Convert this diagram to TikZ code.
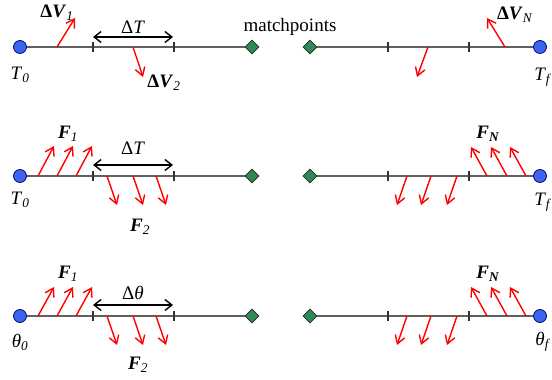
\documentclass[tikz,border=0pt]{standalone}
\usepackage{fontspec}
\setmainfont{Liberation Serif}
\usetikzlibrary{arrows.meta,shapes.geometric}

\definecolor{epblue}{HTML}{3C64F0}
\definecolor{mpgreen}{HTML}{2E8B57}
\definecolor{seggray}{HTML}{606060}

\begin{document}
\begin{tikzpicture}[x=1pt,y=1pt,
  ep/.style={circle,draw=blue!40!black,fill=epblue,inner sep=0pt,minimum size=13pt,line width=0.7pt},
  mp/.style={diamond,draw=black!85,fill=mpgreen,inner sep=0pt,minimum size=14pt,line width=0.7pt},
  seg/.style={draw=seggray,line width=1.4pt},
  tickmark/.style={draw=black!80,line width=1.1pt},
  force/.style={-{Straight Barb[length=8pt,width=10pt]},red,line width=1.4pt},
  span/.style={{Straight Barb[length=7pt,width=11pt]}-{Straight Barb[length=7pt,width=11pt]},black,line width=1.4pt},
  lbl/.style={font=\fontsize{19}{21}\selectfont,inner sep=0pt}]
  \useasboundingbox (0,0) rectangle (552,380);

  % row 1: impulsive burns
  \node[ep] (s1) at (20,333) {};
  \node[mp] (m1) at (252,333) {};
  \node[mp] (n1) at (310,333) {};
  \node[ep] (f1) at (540,333) {};
  \draw[seg] (s1) -- (m1);
  \draw[seg] (n1) -- (f1);
  \draw[tickmark] (93,328) -- (93,338);
  \draw[tickmark] (174,328) -- (174,338);
  \draw[tickmark] (388,328) -- (388,338);
  \draw[tickmark] (469,328) -- (469,338);
  \coordinate (d1a) at (93,343);
  \coordinate (d1b) at (173,343);
  \draw[span] (d1a) -- (d1b);
  \draw[force] (57,333) -- ++(18,29);
  \draw[force] (133,333) -- ++(10,-30);
  \draw[force] (428,333) -- ++(-11,-30);
  \draw[force] (505,333) -- ++(-18,29);
  \node[lbl] (dv1) at (57,367) {\textbf{Δ\textit{V}}\textsubscript{\textit{1}}};
  \node[lbl] (dt1) at (133,353) {Δ\textit{T}};
  \node[lbl] (dv2) at (164,297) {\textbf{Δ\textit{V}}\textsubscript{\textit{2}}};
  \node[lbl] (t01) at (20,305) {\textit{T}\textsubscript{\textit{0}}};
  \node[lbl] (mpl) at (290,353) {matchpoints};
  \node[lbl] (dvn) at (515,365) {\textbf{Δ\textit{V}}\textsubscript{\textit{N}}};
  \node[lbl] (tf1) at (543,303) {\textit{T}\textsubscript{\textit{f}}};

  % row 2: low thrust in time
  \node[ep] (s2) at (20,204) {};
  \node[mp] (m2) at (252,204) {};
  \node[mp] (n2) at (310,204) {};
  \node[ep] (f2) at (540,204) {};
  \draw[seg] (s2) -- (m2);
  \draw[seg] (n2) -- (f2);
  \draw[tickmark] (93,199) -- (93,209);
  \draw[tickmark] (174,199) -- (174,209);
  \draw[tickmark] (388,199) -- (388,209);
  \draw[tickmark] (469,199) -- (469,209);
  \coordinate (d2a) at (93,215);
  \coordinate (d2b) at (173,215);
  \draw[span] (d2a) -- (d2b);
  \draw[force] (38,204) -- ++(16,30);
  \draw[force] (57,204) -- ++(16,30);
  \draw[force] (76,204) -- ++(16,30);
  \draw[force] (107,204) -- ++(10,-29);
  \draw[force] (133,204) -- ++(10,-29);
  \draw[force] (156,204) -- ++(10,-29);
  \draw[force] (407,204) -- ++(-10,-29);
  \draw[force] (431,204) -- ++(-10,-29);
  \draw[force] (457,204) -- ++(-10,-29);
  \draw[force] (487,204) -- ++(-16,29);
  \draw[force] (507,204) -- ++(-16,29);
  \draw[force] (526,204) -- ++(-16,29);
  \node[lbl] (fa2) at (68,246) {\textbf{\textit{F}}\textsubscript{\textit{1}}};
  \node[lbl] (dt2) at (133,232) {Δ\textit{T}};
  \node[lbl] (fb2) at (140,153) {\textbf{\textit{F}}\textsubscript{\textit{2}}};
  \node[lbl] (t02) at (20,180) {\textit{T}\textsubscript{\textit{0}}};
  \node[lbl] (fn2) at (488,246) {\textbf{\textit{F}}\textsubscript{\textbf{\textit{N}}}};
  \node[lbl] (tf2) at (543,178) {\textit{T}\textsubscript{\textit{f}}};

  % row 3: low thrust in angle
  \node[ep] (s3) at (20,64) {};
  \node[mp] (m3) at (252,64) {};
  \node[mp] (n3) at (310,64) {};
  \node[ep] (f3) at (540,64) {};
  \draw[seg] (s3) -- (m3);
  \draw[seg] (n3) -- (f3);
  \draw[tickmark] (93,59) -- (93,69);
  \draw[tickmark] (174,59) -- (174,69);
  \draw[tickmark] (388,59) -- (388,69);
  \draw[tickmark] (469,59) -- (469,69);
  \coordinate (d3a) at (93,75);
  \coordinate (d3b) at (173,75);
  \draw[span] (d3a) -- (d3b);
  \draw[force] (38,64) -- ++(16,29);
  \draw[force] (57,64) -- ++(16,29);
  \draw[force] (76,64) -- ++(16,29);
  \draw[force] (107,64) -- ++(10,-29);
  \draw[force] (133,64) -- ++(10,-29);
  \draw[force] (156,64) -- ++(10,-29);
  \draw[force] (407,64) -- ++(-10,-29);
  \draw[force] (431,64) -- ++(-10,-29);
  \draw[force] (457,64) -- ++(-10,-29);
  \draw[force] (487,64) -- ++(-16,29);
  \draw[force] (507,64) -- ++(-16,29);
  \draw[force] (526,64) -- ++(-16,29);
  \node[lbl] (fa3) at (68,106) {\textbf{\textit{F}}\textsubscript{\textit{1}}};
  \node[lbl] (dh3) at (133,87) {Δ\textit{θ}};
  \node[lbl] (fb3) at (138,15) {\textbf{\textit{F}}\textsubscript{\textit{2}}};
  \node[lbl] (h03) at (20,38) {\textit{θ}\textsubscript{\textit{0}}};
  \node[lbl] (fn3) at (488,106) {\textbf{\textit{F}}\textsubscript{\textbf{\textit{N}}}};
  \node[lbl] (hf3) at (543,38) {\textit{θ}\textsubscript{\textit{f}}};
\end{tikzpicture}
\end{document}
